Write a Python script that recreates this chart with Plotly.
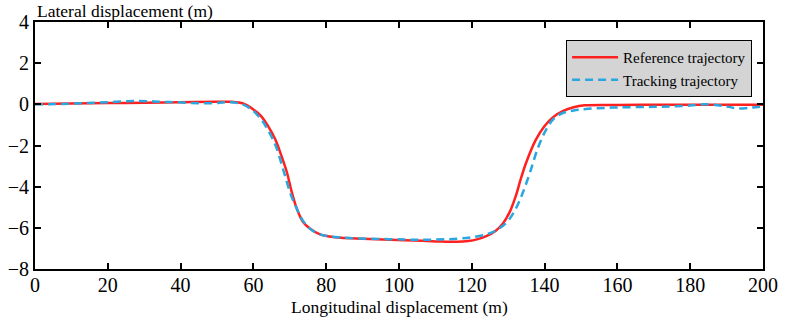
import plotly.graph_objects as go

# Reference trajectory (red)
ref_x = [0, 10, 20, 30, 40, 50, 54, 57, 60, 62, 64, 66, 67.5, 69.2, 70.6, 72, 73.6, 75.6, 78.3, 81, 84, 90,
         97.5, 106.6, 112, 116, 119, 121.4, 124, 126.5, 128.5, 130.5, 132, 133.5, 135, 137.5, 140, 142.5,
         145, 148, 151, 160, 170, 180, 190, 200]
ref_y = [0.02, 0.04, 0.06, 0.08, 0.1, 0.12, 0.12, 0.05, -0.25, -0.55, -1.05, -1.7, -2.4, -3.3, -4.3, -5.1,
         -5.7, -6.05, -6.32, -6.42, -6.48, -6.53, -6.58, -6.63, -6.67, -6.68, -6.64, -6.56, -6.4, -6.15, -5.8,
         -5.2, -4.5, -3.6, -2.8, -1.75, -1.05, -0.6, -0.33, -0.14, -0.05, -0.03, -0.02, -0.02, -0.02, -0.02]

# Tracking trajectory (blue dashed)
trk_x = [0, 7.7, 17, 28, 37, 48, 53.6, 57, 59.5, 62, 64, 66.2, 68.4, 70.3, 72, 73.6, 75.6, 78.3, 84, 97.5,
         106.6, 115.9, 121.4, 125, 127.8, 130, 132, 134, 136, 138.2, 140.5, 142.5, 145, 148, 152, 160, 170,
         178, 184.6, 190, 193, 197, 200]
trk_y = [0.0, 0.02, 0.08, 0.16, 0.11, 0.05, 0.1, 0.0, -0.25, -0.7, -1.25, -2.05, -3.3, -4.4, -5.1, -5.65,
         -6.05, -6.32, -6.47, -6.55, -6.58, -6.53, -6.42, -6.26, -6.0, -5.65, -5.1, -4.3, -3.3, -2.1, -1.2,
         -0.7, -0.42, -0.3, -0.22, -0.15, -0.12, -0.08, 0.0, -0.1, -0.2, -0.15, -0.1]

x_ticks = [0, 20, 40, 60, 80, 100, 120, 140, 160, 180, 200]
y_ticks = [4, 2, 0, -2, -4, -6, -8]

FONT = "Times New Roman, Liberation Serif, serif"

fig = go.Figure()
fig.add_trace(go.Scatter(x=ref_x, y=ref_y, mode="lines", name="Reference trajectory",
                         line=dict(color="#FF2020", width=2.5, shape="spline", smoothing=1.0)))
fig.add_trace(go.Scatter(x=trk_x, y=trk_y, mode="lines", name="Tracking trajectory",
                         line=dict(color="#2BA6DE", width=2.5, dash="8px,5px", shape="spline", smoothing=1.0)))

axis_common = dict(showline=True, linecolor="black", linewidth=2, mirror="ticks", ticks="inside",
                   ticklen=6, tickwidth=2, tickcolor="black", showgrid=False, zeroline=False,
                   automargin=False, tickfont=dict(family=FONT, size=20, color="black"))

fig.update_layout(
    width=785, height=322,
    margin=dict(l=35, r=22, t=22, b=53, autoexpand=False),
    paper_bgcolor="white", plot_bgcolor="white",
    font=dict(family=FONT, color="black"),
    xaxis=dict(range=[0, 200], tickvals=x_ticks, ticklabelstandoff=-3, **axis_common),
    yaxis=dict(range=[-8, 4], tickvals=y_ticks, **axis_common),
    legend=dict(x=0.985, y=0.927, xanchor="right", yanchor="top", bgcolor="#D4D4D4",
                bordercolor="black", borderwidth=1, font=dict(family=FONT, size=15, color="black"),
                tracegroupgap=0, itemwidth=46),
    showlegend=True,
    annotations=[
        dict(text="Lateral displacement (m)", xref="paper", yref="paper", x=0, y=1,
             xanchor="left", yanchor="bottom", showarrow=False, yshift=-1,
             font=dict(family=FONT, size=17.5, color="black")),
        dict(text="Longitudinal displacement (m)", xref="paper", yref="paper", x=0.5, y=-0.154,
             xanchor="center", yanchor="middle", showarrow=False,
             font=dict(family=FONT, size=17.5, color="black")),
    ],
)

fig.write_html("out.html")
